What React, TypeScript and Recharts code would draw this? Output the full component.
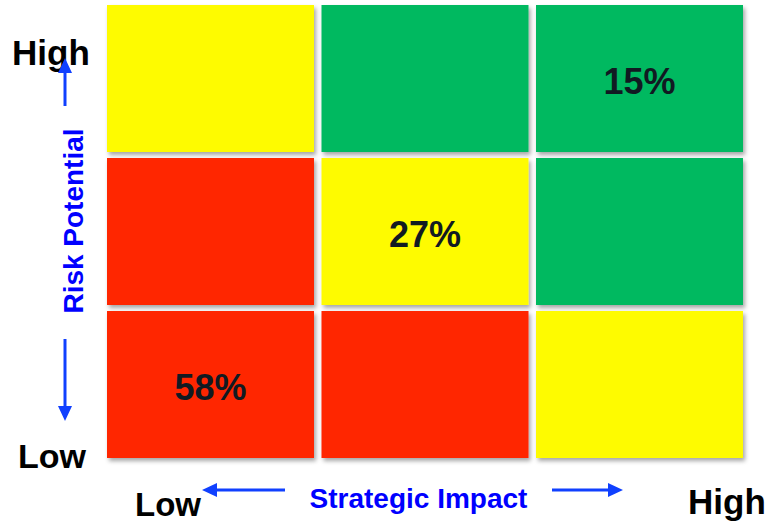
import { ScatterChart, Scatter, XAxis, YAxis, ReferenceArea } from "recharts";

// risk rows listed top to bottom, impact columns left to right
const riskRows = ["High", "Medium", "Low"];
const impactCols = ["Low", "Medium", "High"];

const zones = [
  ["yellow", "green", "green"],
  ["red", "yellow", "green"],
  ["red", "red", "yellow"],
];

const shares: (number | null)[][] = [
  [null, null, 15],
  [null, 27, null],
  [58, null, null],
];

const zoneColors: Record<string, string> = {
  yellow: "#FEFB00",
  green: "#00B960",
  red: "#FF2600",
};

const FONT = '"Liberation Sans", Arial, sans-serif';
const GAP_X = 7.5;
const GAP_Y = 6;

const cells = riskRows.flatMap((risk, r) =>
  impactCols.map((impact, c) => ({
    risk,
    impact,
    x: c + 0.5,
    y: riskRows.length - 1 - r + 0.5,
    zone: zones[r][c],
    share: shares[r][c],
  }))
);

function CellShape(props: any) {
  const { x, y, width, height, fill } = props;
  return (
    <rect
      x={x}
      y={y}
      width={width - GAP_X}
      height={height - GAP_Y}
      fill={fill}
      filter="url(#cellShadow)"
    />
  );
}

function ShareLabel(props: any) {
  const { cx, cy, payload } = props;
  if (payload.share == null) return <g />;
  return (
    <text
      x={cx - GAP_X / 2}
      y={cy - GAP_Y / 2 + 15.5}
      textAnchor="middle"
      fontFamily={FONT}
      fontWeight="bold"
      fontSize={36}
      fill="#111a22"
    >
      {`${payload.share}%`}
    </text>
  );
}

function Arrow({ x1, y1, x2, y2 }: { x1: number; y1: number; x2: number; y2: number }) {
  const dx = x2 - x1;
  const dy = y2 - y1;
  const len = Math.hypot(dx, dy);
  const ux = dx / len;
  const uy = dy / len;
  const head = 15;
  const half = 7;
  const bx = x2 - ux * head;
  const by = y2 - uy * head;
  return (
    <g>
      <line x1={x1} y1={y1} x2={bx + ux * 2} y2={by + uy * 2} stroke="#1040FF" strokeWidth={3} />
      <polygon
        points={`${x2},${y2} ${bx - uy * half},${by + ux * half} ${bx + uy * half},${by - ux * half}`}
        fill="#1040FF"
      />
    </g>
  );
}

export default function App() {
  return (
    <div style={{ position: "absolute", left: 0, top: 0, width: 767, height: 525, background: "#fff" }}>
      <svg
        width={767}
        height={525}
        style={{ position: "absolute", left: 0, top: 0, pointerEvents: "none" }}
      >
        <defs>
          <filter id="cellShadow" x="-10%" y="-10%" width="125%" height="130%">
            <feDropShadow dx={2} dy={3} stdDeviation={2} floodColor="#000" floodOpacity={0.35} />
          </filter>
        </defs>
        <g fontFamily={FONT} fontWeight="bold">
          <text x={12} y={65} fontSize={35} fill="#000">High</text>
          <text x={18} y={468} fontSize={34} fill="#000">Low</text>
          <text x={135} y={516} fontSize={33} fill="#000">Low</text>
          <text x={688} y={514} fontSize={35} fill="#000">High</text>
          <text x={418.5} y={508} fontSize={28} fill="#0000FF" textAnchor="middle">
            Strategic Impact
          </text>
          <text
            transform="translate(83,221) rotate(-90)"
            fontSize={28}
            fill="#0000FF"
            textAnchor="middle"
          >
            Risk Potential
          </text>
        </g>
        <Arrow x1={65} y1={106} x2={65} y2={58} />
        <Arrow x1={65} y1={339} x2={65} y2={421} />
        <Arrow x1={285} y1={490} x2={202} y2={490} />
        <Arrow x1={552} y1={490} x2={623} y2={490} />
      </svg>
      <div style={{ position: "absolute", left: 0, top: 0 }}>
        <ScatterChart
          width={767}
          height={525}
          margin={{ top: 5, right: 16.5, bottom: 61, left: 107 }}
        >
          <XAxis type="number" dataKey="x" domain={[0, impactCols.length]} hide />
          <YAxis type="number" dataKey="y" domain={[0, riskRows.length]} hide />
          {cells.map((cell, i) => (
            <ReferenceArea
              key={i}
              x1={cell.x - 0.5}
              x2={cell.x + 0.5}
              y1={cell.y - 0.5}
              y2={cell.y + 0.5}
              fill={zoneColors[cell.zone]}
              fillOpacity={1}
              stroke="none"
              shape={<CellShape />}
            />
          ))}
          <Scatter data={cells} shape={<ShareLabel />} isAnimationActive={false} />
        </ScatterChart>
      </div>
    </div>
  );
}
